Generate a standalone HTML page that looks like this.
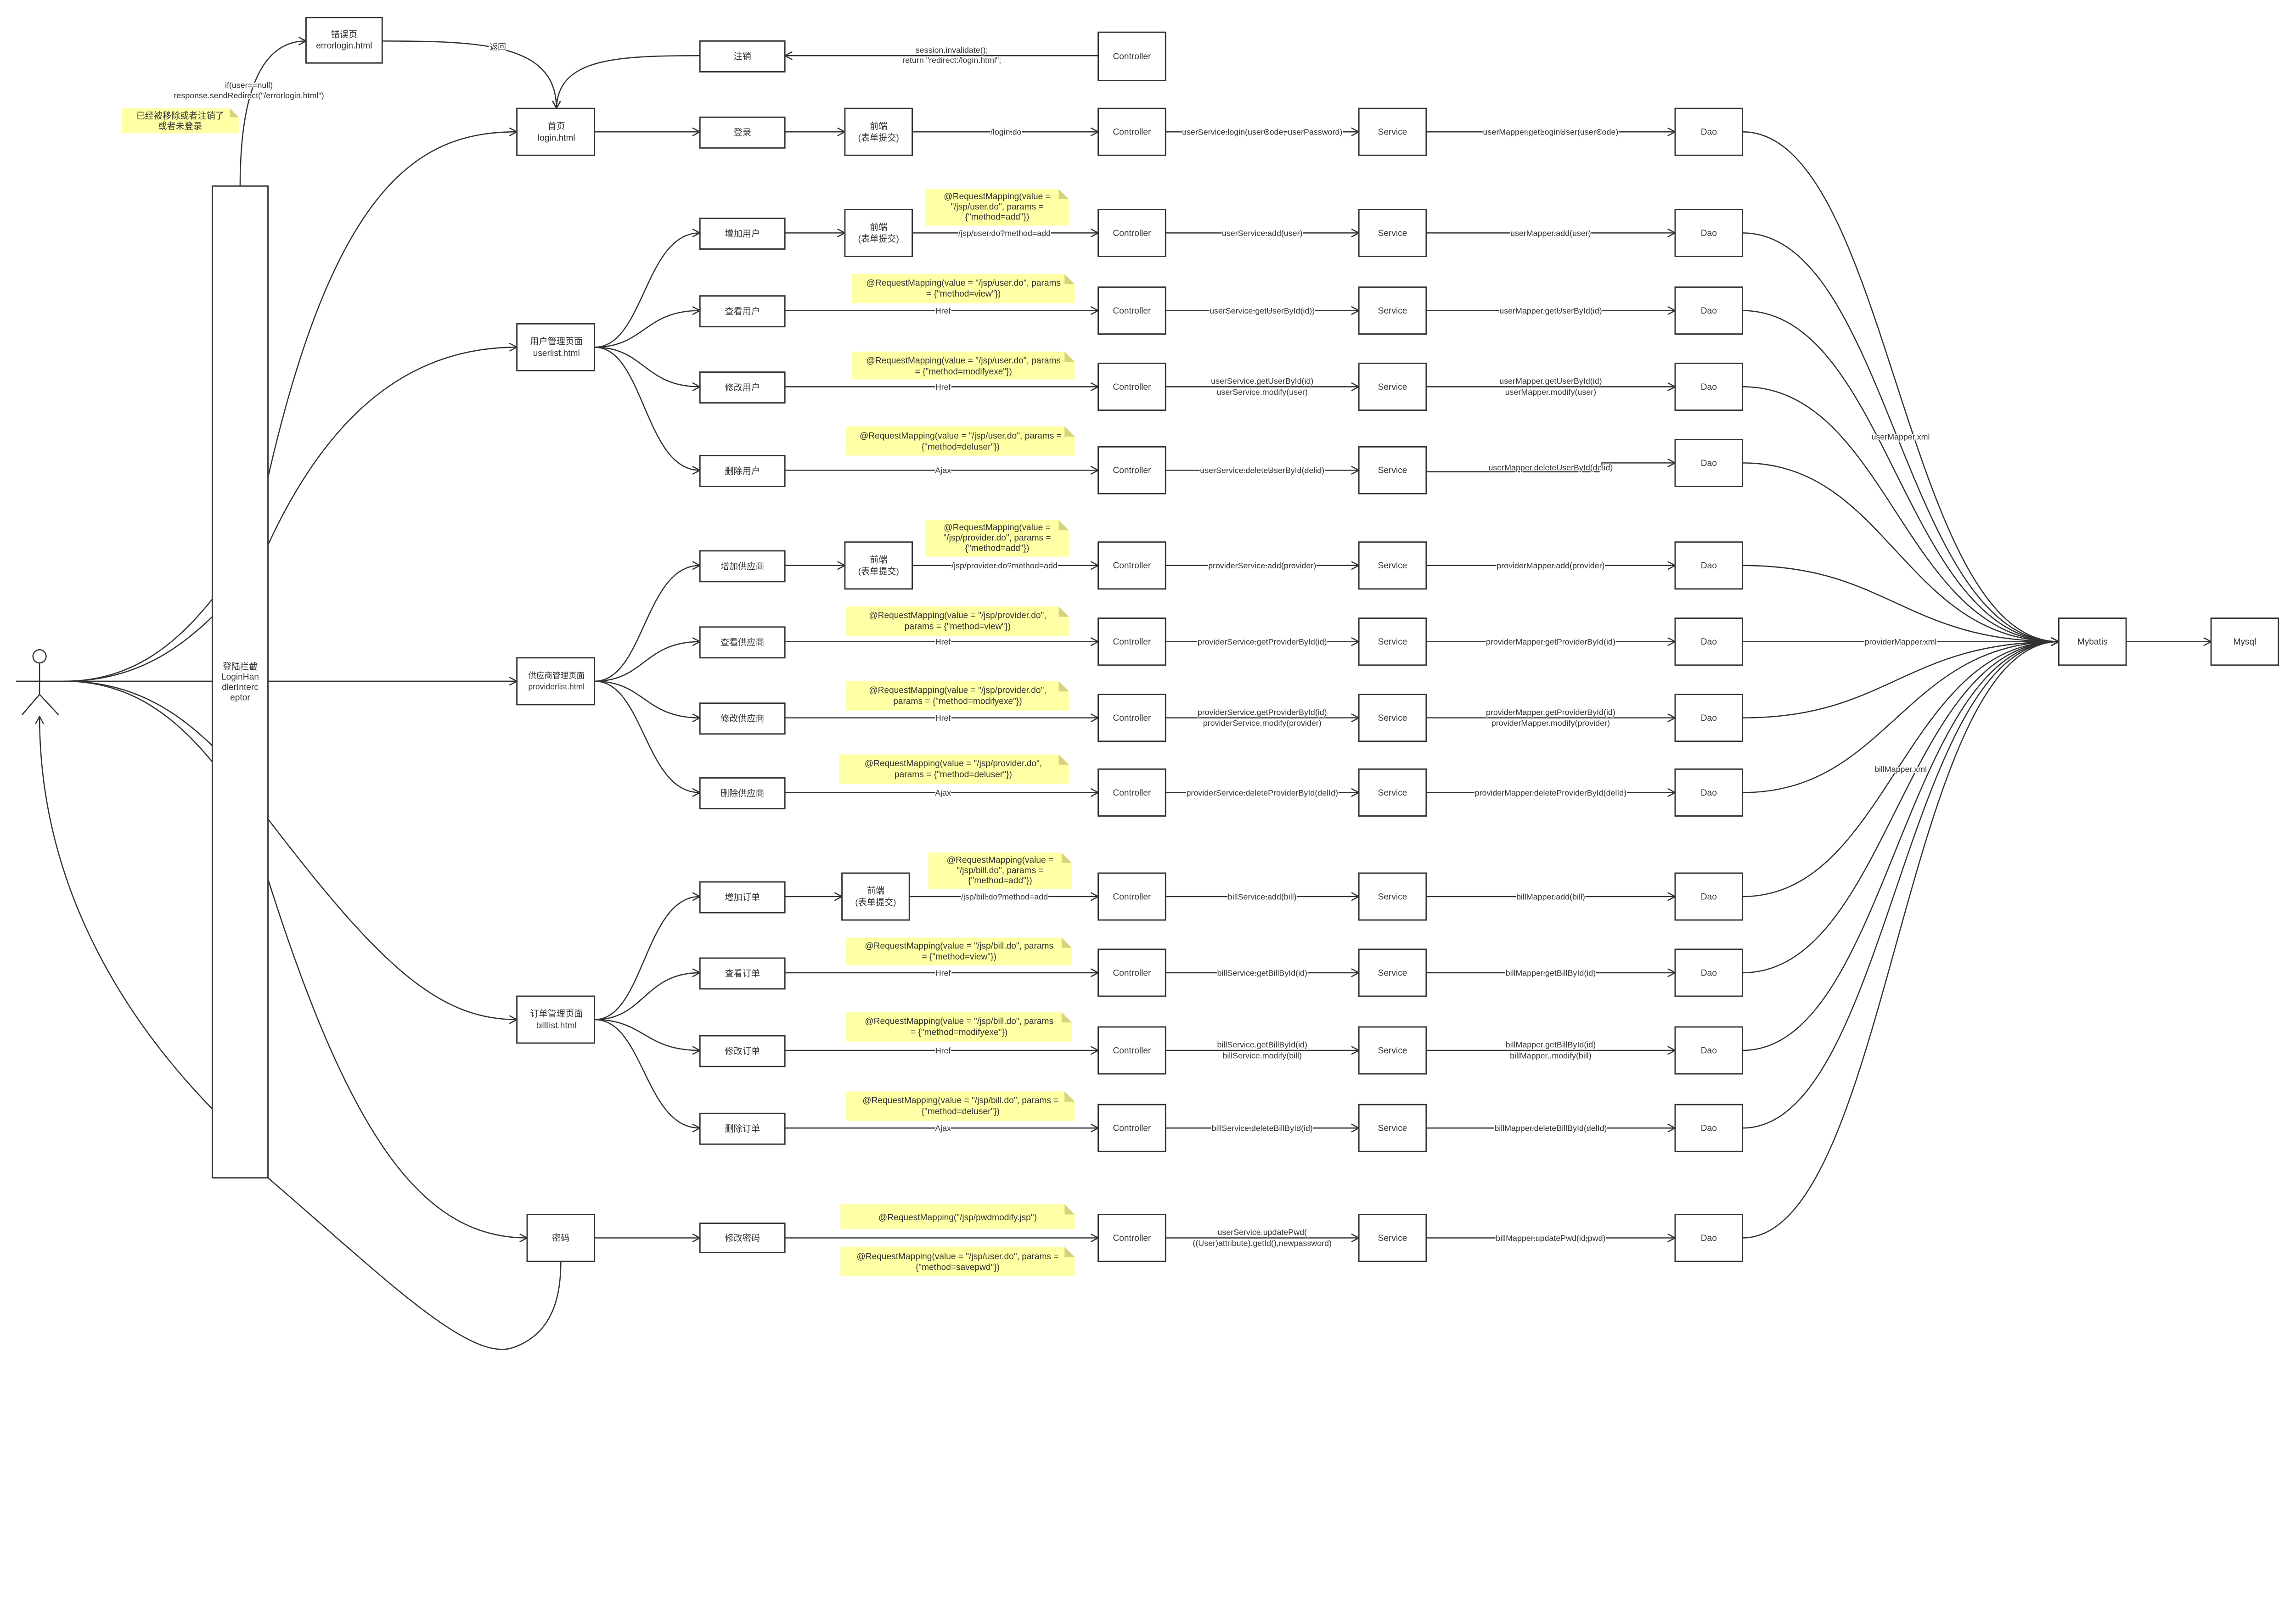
<!DOCTYPE html>
<html><head><meta charset="utf-8">
<style>
html,body{margin:0;padding:0;background:#fff;overflow:hidden;width:100%;height:100%;}
svg{display:block;position:absolute;left:0;top:0;width:100vw;height:100vh;}
text{font-family:"Liberation Sans","Noto Sans CJK SC",sans-serif;fill:#333;}
</style></head>
<body>
<svg viewBox="0 0 1568 1106.5" preserveAspectRatio="none" xmlns="http://www.w3.org/2000/svg">
<defs>
<marker id="a" viewBox="0 0 10 10" refX="9.5" refY="5" markerWidth="6" markerHeight="6" orient="auto" markerUnits="userSpaceOnUse">
<path d="M1,0.5 L9.5,5 L1,9.5" fill="none" stroke="#333" stroke-width="1.3"/>
</marker>
</defs>
<rect width="1568" height="1106.5" fill="#fff"/>

<g fill="none" stroke="#333" stroke-width="0.8">
<circle cx="27" cy="448" r="4.5"/>
<line x1="27" y1="452.5" x2="27" y2="474"/>
<line x1="27" y1="474" x2="15" y2="488"/>
<line x1="27" y1="474" x2="40" y2="488"/>
<line x1="11" y1="465" x2="145" y2="465"/>
<path d="M44,465 C90,465 120,440 145,409"/>
<path d="M44,465 C90,465 120,445 145,421"/>
<path d="M44,465 C90,465 120,485 145,509"/>
<path d="M44,465 C90,465 120,490 145,520"/>
<path d="M145,757 C80,690 27,600 27,489" marker-end="url(#a)"/>
<path d="M183,804 C260,870 320,930 350,920 C380,910 383,880 383,861"/>

<path d="M164,127 C164,60 180,28 209,28" marker-end="url(#a)"/>
<path d="M261,28 C330,28 380,30 380,74" marker-end="url(#a)"/>
<path d="M478,38 C420,38 381,40 380,74" marker-end="url(#a)"/>
<path d="M183,326 C230,120 290,90 353,90" marker-end="url(#a)"/>
<path d="M183,372 C230,270 290,237 353,237" marker-end="url(#a)"/>
<line x1="183" y1="465" x2="353" y2="465" marker-end="url(#a)"/>
<path d="M183,559 C260,660 300,696 353,696" marker-end="url(#a)"/>
<path d="M183,600 C240,780 290,845 360,845" marker-end="url(#a)"/>

<line x1="406" y1="90" x2="478" y2="90" marker-end="url(#a)"/>
<path d="M406,237 C440,237 440,159 478,159" marker-end="url(#a)"/>
<path d="M406,237 C440,237 440,212 478,212" marker-end="url(#a)"/>
<path d="M406,237 C440,237 440,264 478,264" marker-end="url(#a)"/>
<path d="M406,237 C440,237 440,321 478,321" marker-end="url(#a)"/>
<path d="M406,465 C440,465 440,386 478,386" marker-end="url(#a)"/>
<path d="M406,465 C440,465 440,438 478,438" marker-end="url(#a)"/>
<path d="M406,465 C440,465 440,490 478,490" marker-end="url(#a)"/>
<path d="M406,465 C440,465 440,541 478,541" marker-end="url(#a)"/>
<path d="M406,696 C440,696 440,612 478,612" marker-end="url(#a)"/>
<path d="M406,696 C440,696 440,664 478,664" marker-end="url(#a)"/>
<path d="M406,696 C440,696 440,717 478,717" marker-end="url(#a)"/>
<path d="M406,696 C440,696 440,770 478,770" marker-end="url(#a)"/>
<line x1="406" y1="845" x2="478" y2="845" marker-end="url(#a)"/>

<line x1="536" y1="90" x2="577" y2="90" marker-end="url(#a)"/>
<line x1="536" y1="159" x2="577" y2="159" marker-end="url(#a)"/>
<line x1="536" y1="386" x2="577" y2="386" marker-end="url(#a)"/>
<line x1="536" y1="612" x2="575" y2="612" marker-end="url(#a)"/>

<line x1="750" y1="38" x2="536" y2="38" marker-end="url(#a)"/>
<line x1="623" y1="90" x2="750" y2="90" marker-end="url(#a)"/>
<line x1="623" y1="159" x2="750" y2="159" marker-end="url(#a)"/>
<line x1="536" y1="212" x2="750" y2="212" marker-end="url(#a)"/>
<line x1="536" y1="264" x2="750" y2="264" marker-end="url(#a)"/>
<line x1="536" y1="321" x2="750" y2="321" marker-end="url(#a)"/>
<line x1="623" y1="386" x2="750" y2="386" marker-end="url(#a)"/>
<line x1="536" y1="438" x2="750" y2="438" marker-end="url(#a)"/>
<line x1="536" y1="490" x2="750" y2="490" marker-end="url(#a)"/>
<line x1="536" y1="541" x2="750" y2="541" marker-end="url(#a)"/>
<line x1="621" y1="612" x2="750" y2="612" marker-end="url(#a)"/>
<line x1="536" y1="664" x2="750" y2="664" marker-end="url(#a)"/>
<line x1="536" y1="717" x2="750" y2="717" marker-end="url(#a)"/>
<line x1="536" y1="770" x2="750" y2="770" marker-end="url(#a)"/>
<line x1="536" y1="845" x2="750" y2="845" marker-end="url(#a)"/>

<line x1="796" y1="90" x2="928" y2="90" marker-end="url(#a)"/>
<line x1="796" y1="159" x2="928" y2="159" marker-end="url(#a)"/>
<line x1="796" y1="212" x2="928" y2="212" marker-end="url(#a)"/>
<line x1="796" y1="264" x2="928" y2="264" marker-end="url(#a)"/>
<line x1="796" y1="321" x2="928" y2="321" marker-end="url(#a)"/>
<line x1="796" y1="386" x2="928" y2="386" marker-end="url(#a)"/>
<line x1="796" y1="438" x2="928" y2="438" marker-end="url(#a)"/>
<line x1="796" y1="490" x2="928" y2="490" marker-end="url(#a)"/>
<line x1="796" y1="541" x2="928" y2="541" marker-end="url(#a)"/>
<line x1="796" y1="612" x2="928" y2="612" marker-end="url(#a)"/>
<line x1="796" y1="664" x2="928" y2="664" marker-end="url(#a)"/>
<line x1="796" y1="717" x2="928" y2="717" marker-end="url(#a)"/>
<line x1="796" y1="770" x2="928" y2="770" marker-end="url(#a)"/>
<line x1="796" y1="845" x2="928" y2="845" marker-end="url(#a)"/>

<line x1="974" y1="90" x2="1144" y2="90" marker-end="url(#a)"/>
<line x1="974" y1="159" x2="1144" y2="159" marker-end="url(#a)"/>
<line x1="974" y1="212" x2="1144" y2="212" marker-end="url(#a)"/>
<line x1="974" y1="264" x2="1144" y2="264" marker-end="url(#a)"/>
<path d="M974,322 L1092,322 L1094,316 L1144,316" marker-end="url(#a)"/>
<line x1="974" y1="386" x2="1144" y2="386" marker-end="url(#a)"/>
<line x1="974" y1="438" x2="1144" y2="438" marker-end="url(#a)"/>
<line x1="974" y1="490" x2="1144" y2="490" marker-end="url(#a)"/>
<line x1="974" y1="541" x2="1144" y2="541" marker-end="url(#a)"/>
<line x1="974" y1="612" x2="1144" y2="612" marker-end="url(#a)"/>
<line x1="974" y1="664" x2="1144" y2="664" marker-end="url(#a)"/>
<line x1="974" y1="717" x2="1144" y2="717" marker-end="url(#a)"/>
<line x1="974" y1="770" x2="1144" y2="770" marker-end="url(#a)"/>
<line x1="974" y1="845" x2="1144" y2="845" marker-end="url(#a)"/>

<path d="M1190,90 C1290,90 1300,438 1406,438" marker-end="url(#a)"/>
<path d="M1190,159 C1290,159 1300,438 1406,438" marker-end="url(#a)"/>
<path d="M1190,212 C1290,212 1300,438 1406,438" marker-end="url(#a)"/>
<path d="M1190,264 C1290,264 1300,438 1406,438" marker-end="url(#a)"/>
<path d="M1190,316 C1290,316 1300,438 1406,438" marker-end="url(#a)"/>
<path d="M1190,386 C1290,386 1300,438 1406,438" marker-end="url(#a)"/>
<line x1="1190" y1="438" x2="1406" y2="438" marker-end="url(#a)"/>
<path d="M1190,490 C1290,490 1300,438 1406,438" marker-end="url(#a)"/>
<path d="M1190,541 C1290,541 1300,438 1406,438" marker-end="url(#a)"/>
<path d="M1190,612 C1290,612 1300,438 1406,438" marker-end="url(#a)"/>
<path d="M1190,664 C1290,664 1300,438 1406,438" marker-end="url(#a)"/>
<path d="M1190,717 C1290,717 1300,438 1406,438" marker-end="url(#a)"/>
<path d="M1190,770 C1290,770 1300,438 1406,438" marker-end="url(#a)"/>
<path d="M1190,845 C1290,845 1300,438 1406,438" marker-end="url(#a)"/>
<line x1="1452" y1="438" x2="1510" y2="438" marker-end="url(#a)"/>
</g>

<g fill="#fff" stroke="#333" stroke-width="0.9">
<rect x="145" y="127" width="38" height="677"/>
<rect x="209" y="12" width="52" height="31"/>
<rect x="353" y="74" width="53" height="32"/>
<rect x="353" y="221" width="53" height="32"/>
<rect x="353" y="449" width="53" height="32"/>
<rect x="353" y="680" width="53" height="32"/>
<rect x="360" y="829" width="46" height="32"/>
<rect x="478" y="28" width="58" height="21"/>
<rect x="478" y="80" width="58" height="21"/>
<rect x="478" y="149" width="58" height="21"/>
<rect x="478" y="202" width="58" height="21"/>
<rect x="478" y="254" width="58" height="21"/>
<rect x="478" y="311" width="58" height="21"/>
<rect x="478" y="376" width="58" height="21"/>
<rect x="478" y="428" width="58" height="21"/>
<rect x="478" y="480" width="58" height="21"/>
<rect x="478" y="531" width="58" height="21"/>
<rect x="478" y="602" width="58" height="21"/>
<rect x="478" y="654" width="58" height="21"/>
<rect x="478" y="707" width="58" height="21"/>
<rect x="478" y="760" width="58" height="21"/>
<rect x="478" y="835" width="58" height="20"/>
<rect x="577" y="74" width="46" height="32"/>
<rect x="577" y="143" width="46" height="32"/>
<rect x="577" y="370" width="46" height="32"/>
<rect x="575" y="596" width="46" height="32"/>
<rect x="750" y="22" width="46" height="33"/>
<rect x="750" y="74" width="46" height="32"/>
<rect x="750" y="143" width="46" height="32"/>
<rect x="750" y="196" width="46" height="32"/>
<rect x="750" y="248" width="46" height="32"/>
<rect x="750" y="305" width="46" height="32"/>
<rect x="750" y="370" width="46" height="32"/>
<rect x="750" y="422" width="46" height="32"/>
<rect x="750" y="474" width="46" height="32"/>
<rect x="750" y="525" width="46" height="32"/>
<rect x="750" y="596" width="46" height="32"/>
<rect x="750" y="648" width="46" height="32"/>
<rect x="750" y="701" width="46" height="32"/>
<rect x="750" y="754" width="46" height="32"/>
<rect x="750" y="829" width="46" height="32"/>
<rect x="928" y="74" width="46" height="32"/>
<rect x="928" y="143" width="46" height="32"/>
<rect x="928" y="196" width="46" height="32"/>
<rect x="928" y="248" width="46" height="32"/>
<rect x="928" y="305" width="46" height="32"/>
<rect x="928" y="370" width="46" height="32"/>
<rect x="928" y="422" width="46" height="32"/>
<rect x="928" y="474" width="46" height="32"/>
<rect x="928" y="525" width="46" height="32"/>
<rect x="928" y="596" width="46" height="32"/>
<rect x="928" y="648" width="46" height="32"/>
<rect x="928" y="701" width="46" height="32"/>
<rect x="928" y="754" width="46" height="32"/>
<rect x="928" y="829" width="46" height="32"/>
<rect x="1144" y="74" width="46" height="32"/>
<rect x="1144" y="143" width="46" height="32"/>
<rect x="1144" y="196" width="46" height="32"/>
<rect x="1144" y="248" width="46" height="32"/>
<rect x="1144" y="300" width="46" height="32"/>
<rect x="1144" y="370" width="46" height="32"/>
<rect x="1144" y="422" width="46" height="32"/>
<rect x="1144" y="474" width="46" height="32"/>
<rect x="1144" y="525" width="46" height="32"/>
<rect x="1144" y="596" width="46" height="32"/>
<rect x="1144" y="648" width="46" height="32"/>
<rect x="1144" y="701" width="46" height="32"/>
<rect x="1144" y="754" width="46" height="32"/>
<rect x="1144" y="829" width="46" height="32"/>
<rect x="1406" y="422" width="46" height="32"/>
<rect x="1510" y="422" width="46" height="32"/>
</g>

<g>
<g fill="#ffffa6">
<polygon points="83,74 157,74 163,80 163,91 83,91"/>
<polygon points="632,129 723,129 730,136 730,154 632,154"/>
<polygon points="582,187 727,187 734,194 734,207 582,207"/>
<polygon points="582,240 727,240 734,247 734,259 582,259"/>
<polygon points="578,291 727,291 734,298 734,311 578,311"/>
<polygon points="632,355 723,355 730,362 730,380 632,380"/>
<polygon points="578,414 723,414 730,421 730,434 578,434"/>
<polygon points="578,465 723,465 730,472 730,485 578,485"/>
<polygon points="573,515 723,515 730,522 730,535 573,535"/>
<polygon points="634,582 725,582 732,589 732,607 634,607"/>
<polygon points="578,640 725,640 732,647 732,659 578,659"/>
<polygon points="578,691 725,691 732,698 732,711 578,711"/>
<polygon points="578,745 727,745 734,752 734,765 578,765"/>
<polygon points="574,822 727,822 734,829 734,839 574,839"/>
<polygon points="574,851 727,851 734,858 734,871 574,871"/>
</g>
<g fill="#d6d37a">
<polygon points="157,74 163,80 157,80"/>
<polygon points="723,129 730,136 723,136"/>
<polygon points="727,187 734,194 727,194"/>
<polygon points="727,240 734,247 727,247"/>
<polygon points="727,291 734,298 727,298"/>
<polygon points="723,355 730,362 723,362"/>
<polygon points="723,414 730,421 723,421"/>
<polygon points="723,465 730,472 723,472"/>
<polygon points="723,515 730,522 723,522"/>
<polygon points="725,582 732,589 725,589"/>
<polygon points="725,640 732,647 725,647"/>
<polygon points="725,691 732,698 725,698"/>
<polygon points="727,745 734,752 727,752"/>
<polygon points="727,822 734,829 727,829"/>
<polygon points="727,851 734,858 727,858"/>
</g>
</g>

<g font-size="6" text-anchor="middle">
<text x="164" y="457">登陆拦截</text>
<text x="164" y="464">LoginHan</text>
<text x="164" y="471">dlerInterc</text>
<text x="164" y="478">eptor</text>
<text x="235" y="25.5">错误页</text><text x="235" y="33">errorlogin.html</text>
<text x="380" y="88">首页</text><text x="380" y="96">login.html</text>
<text x="380" y="235">用户管理页面</text><text x="380" y="243">userlist.html</text>
<text x="380" y="463" font-size="5.5">供应商管理页面</text><text x="380" y="470.5" font-size="5.5">providerlist.html</text>
<text x="380" y="694">订单管理页面</text><text x="380" y="702">billlist.html</text>
<text x="383" y="847">密码</text>
<text x="507" y="40.5">注销</text>
<text x="507" y="92.5">登录</text>
<text x="507" y="161.5">增加用户</text>
<text x="507" y="214.5">查看用户</text>
<text x="507" y="266.5">修改用户</text>
<text x="507" y="323.5">删除用户</text>
<text x="507" y="388.5">增加供应商</text>
<text x="507" y="440.5">查看供应商</text>
<text x="507" y="492.5">修改供应商</text>
<text x="507" y="543.5">删除供应商</text>
<text x="507" y="614.5">增加订单</text>
<text x="507" y="666.5">查看订单</text>
<text x="507" y="719.5">修改订单</text>
<text x="507" y="772.5">删除订单</text>
<text x="507" y="847">修改密码</text>
<text x="600" y="88">前端</text><text x="600" y="96">(表单提交)</text>
<text x="600" y="157">前端</text><text x="600" y="165">(表单提交)</text>
<text x="600" y="384">前端</text><text x="600" y="392">(表单提交)</text>
<text x="598" y="610">前端</text><text x="598" y="618">(表单提交)</text>
<text x="773" y="40.5">Controller</text>
<text x="773" y="92">Controller</text><text x="773" y="161">Controller</text><text x="773" y="214">Controller</text><text x="773" y="266">Controller</text><text x="773" y="323">Controller</text>
<text x="773" y="388">Controller</text><text x="773" y="440">Controller</text><text x="773" y="492">Controller</text><text x="773" y="543">Controller</text>
<text x="773" y="614">Controller</text><text x="773" y="666">Controller</text><text x="773" y="719">Controller</text><text x="773" y="772">Controller</text><text x="773" y="847">Controller</text>
<text x="951" y="92">Service</text><text x="951" y="161">Service</text><text x="951" y="214">Service</text><text x="951" y="266">Service</text><text x="951" y="323">Service</text>
<text x="951" y="388">Service</text><text x="951" y="440">Service</text><text x="951" y="492">Service</text><text x="951" y="543">Service</text>
<text x="951" y="614">Service</text><text x="951" y="666">Service</text><text x="951" y="719">Service</text><text x="951" y="772">Service</text><text x="951" y="847">Service</text>
<text x="1167" y="92">Dao</text><text x="1167" y="161">Dao</text><text x="1167" y="214">Dao</text><text x="1167" y="266">Dao</text><text x="1167" y="318">Dao</text>
<text x="1167" y="388">Dao</text><text x="1167" y="440">Dao</text><text x="1167" y="492">Dao</text><text x="1167" y="543">Dao</text>
<text x="1167" y="614">Dao</text><text x="1167" y="666">Dao</text><text x="1167" y="719">Dao</text><text x="1167" y="772">Dao</text><text x="1167" y="847">Dao</text>
<text x="1429" y="440">Mybatis</text>
<text x="1533" y="440">Mysql</text>
</g>

<g font-size="6" text-anchor="middle">
<text x="123" y="81">已经被移除或者注销了</text><text x="123" y="88">或者未登录</text>
<text x="681" y="136">@RequestMapping(value =</text><text x="681" y="143">"/jsp/user.do", params =</text><text x="681" y="150">{"method=add"})</text>
<text x="658" y="195">@RequestMapping(value = "/jsp/user.do", params</text><text x="658" y="202.5">= {"method=view"})</text>
<text x="658" y="248">@RequestMapping(value = "/jsp/user.do", params</text><text x="658" y="255.5">= {"method=modifyexe"})</text>
<text x="656" y="299.5">@RequestMapping(value = "/jsp/user.do", params =</text><text x="656" y="307">{"method=deluser"})</text>
<text x="681" y="362">@RequestMapping(value =</text><text x="681" y="369">"/jsp/provider.do", params =</text><text x="681" y="376">{"method=add"})</text>
<text x="654" y="422">@RequestMapping(value = "/jsp/provider.do",</text><text x="654" y="429.5">params = {"method=view"})</text>
<text x="654" y="473">@RequestMapping(value = "/jsp/provider.do",</text><text x="654" y="480.5">params = {"method=modifyexe"})</text>
<text x="651" y="523">@RequestMapping(value = "/jsp/provider.do",</text><text x="651" y="530.5">params = {"method=deluser"})</text>
<text x="683" y="589">@RequestMapping(value =</text><text x="683" y="596">"/jsp/bill.do", params =</text><text x="683" y="603">{"method=add"})</text>
<text x="655" y="647.5">@RequestMapping(value = "/jsp/bill.do", params</text><text x="655" y="655">= {"method=view"})</text>
<text x="655" y="699">@RequestMapping(value = "/jsp/bill.do", params</text><text x="655" y="706.5">= {"method=modifyexe"})</text>
<text x="656" y="753">@RequestMapping(value = "/jsp/bill.do", params =</text><text x="656" y="760.5">{"method=deluser"})</text>
<text x="654" y="833">@RequestMapping("/jsp/pwdmodify.jsp")</text>
<text x="654" y="859.5">@RequestMapping(value = "/jsp/user.do", params =</text><text x="654" y="867">{"method=savepwd"})</text>
</g>

<g font-size="5.6" text-anchor="middle" stroke="#fff" stroke-width="1.2" paint-order="stroke">
<text x="170" y="60">if(user==null)</text>
<text x="170" y="67">response.sendRedirect("/errorlogin.html")</text>
<text x="340" y="34">返回</text>
<text x="650" y="36">session.invalidate();</text><text x="650" y="43">return "redirect:/login.html";</text>
<text x="687" y="92">/login.do</text>
<text x="862" y="92">userService.login(userCode, userPassword)</text>
<text x="1059" y="92">userMapper.getLoginUser(userCode)</text>
<text x="686" y="161">/jsp/user.do?method=add</text>
<text x="862" y="161">userService.add(user)</text>
<text x="1059" y="161">userMapper.add(user)</text>
<text x="644" y="214">Href</text>
<text x="862" y="214">userService.getUserById(id))</text>
<text x="1059" y="214">userMapper.getUserById(id)</text>
<text x="644" y="266">Href</text>
<text x="862" y="262">userService.getUserById(id)</text><text x="862" y="269.5">userService.modify(user)</text>
<text x="1059" y="262">userMapper.getUserById(id)</text><text x="1059" y="269.5">userMapper.modify(user)</text>
<text x="644" y="323">Ajax</text>
<text x="862" y="323">userService.deleteUserById(delid)</text>
<text x="1059" y="321">userMapper.deleteUserById(delid)</text>
<text x="686" y="388">/jsp/provider.do?method=add</text>
<text x="862" y="388">providerService.add(provider)</text>
<text x="1059" y="388">providerMapper.add(provider)</text>
<text x="644" y="440">Href</text>
<text x="862" y="440">providerService.getProviderById(id)</text>
<text x="1059" y="440">providerMapper.getProviderById(id)</text>
<text x="644" y="492">Href</text>
<text x="862" y="488">providerService.getProviderById(id)</text><text x="862" y="495.5">providerService.modify(provider)</text>
<text x="1059" y="488">providerMapper.getProviderById(id)</text><text x="1059" y="495.5">providerMapper.modify(provider)</text>
<text x="644" y="543">Ajax</text>
<text x="862" y="543">providerService.deleteProviderById(delId)</text>
<text x="1059" y="543">providerMapper.deleteProviderById(delId)</text>
<text x="686" y="614">/jsp/bill.do?method=add</text>
<text x="862" y="614">billService.add(bill)</text>
<text x="1059" y="614">billMapper.add(bill)</text>
<text x="644" y="666">Href</text>
<text x="862" y="666">billService.getBillById(id)</text>
<text x="1059" y="666">billMapper.getBillById(id)</text>
<text x="644" y="719">Href</text>
<text x="862" y="715">billService.getBillById(id)</text><text x="862" y="722.5">billService.modify(bill)</text>
<text x="1059" y="715">billMapper.getBillById(id)</text><text x="1059" y="722.5">billMapper..modify(bill)</text>
<text x="644" y="772">Ajax</text>
<text x="862" y="772">billService.deleteBillById(id)</text>
<text x="1059" y="772">billMapper.deleteBillById(delId)</text>
<text x="862" y="843">userService.updatePwd(</text><text x="862" y="850.5">((User)attribute).getId(),newpassword)</text>
<text x="1059" y="847">billMapper.updatePwd(id,pwd)</text>
<text x="1298" y="300">userMapper.xml</text>
<text x="1298" y="440">providerMapper.xml</text>
<text x="1298" y="527">billMapper.xml</text>
</g>
</svg>
</body></html>
